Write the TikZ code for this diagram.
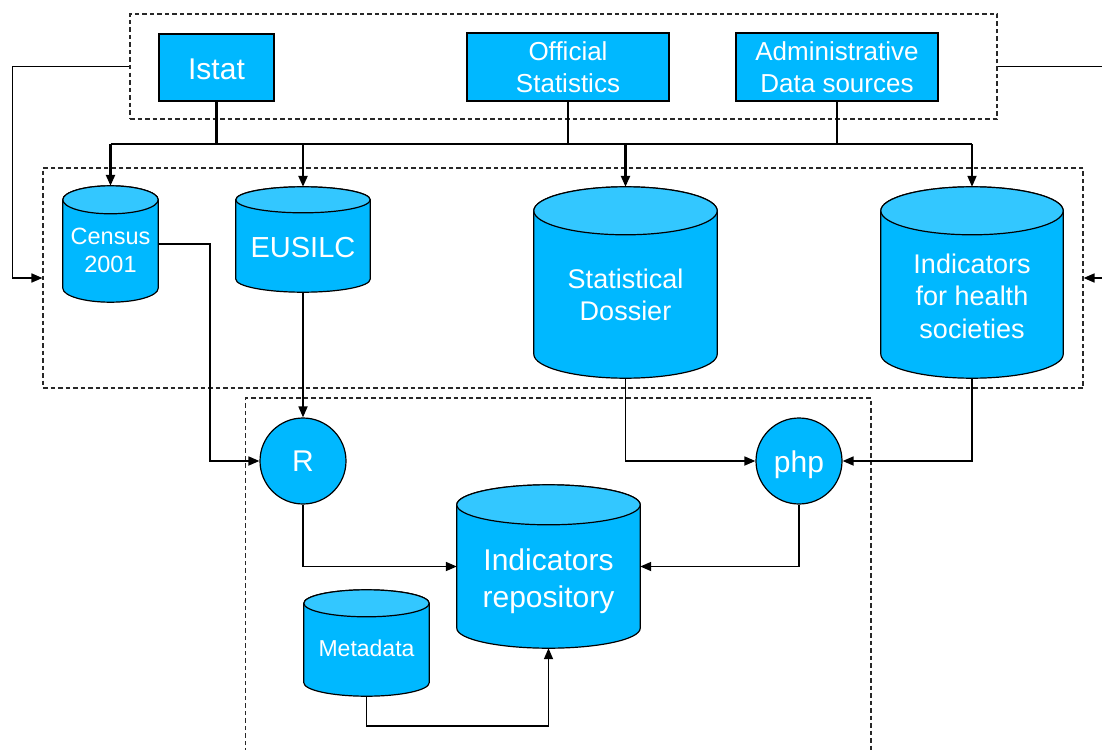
\documentclass[tikz,border=0pt]{standalone}
\usepackage{fontspec}
\setmainfont{Liberation Sans}
\usetikzlibrary{arrows.meta,backgrounds,calc}

\definecolor{dbblue}{RGB}{0,184,255}
\definecolor{dbtop}{RGB}{51,199,255}
\definecolor{dashgray}{RGB}{40,40,40}

\newcommand\fsz[2]{\fontsize{#1}{#2}\selectfont}
% centred multi-line label, moved vertically by #1 inside its node
\newcommand\dbtext[2]{\raisebox{#1}[0pt][0pt]{\begin{tabular}{@{}c@{}}#2\end{tabular}}}
% single label lowered by #1 while keeping its box
\newcommand\lowered[2]{\raisebox{-#1}[\height][\depth]{#2}}

\tikzset{
  drumline/.style={draw=black, line width=1.2pt},
  dbnode/.style={inner sep=0pt, text=white},
  srcbox/.style={draw=black, line width=1.2pt, fill=dbblue, text=white, inner sep=0pt, align=center},
  procnode/.style={circle, draw=black, line width=1.2pt, fill=dbblue, text=white, minimum size=86pt, inner sep=0pt},
  dashedline/.style={draw=dashgray, line width=1.1pt, dash pattern=on 4.5pt off 3pt},
  conn/.style={draw=black, line width=1.7pt},
  busline/.style={draw=black, line width=2.3pt},
  arr/.style={-{Triangle[length=11pt,width=9pt]}},
}

% database drum drawn behind a named node: node name, cap radius (pt)
\newcommand\drum[2]{%
  \begin{scope}[on background layer]
    \path let \p1=(#1.south west), \p2=(#1.north east),
              \n1={0.5*(\x2-\x1)}, \n2={#2*1pt} in
      [drumline, fill=dbblue]
        (\x1,\y2-\n2) -- (\x1,\y1+\n2)
        arc[start angle=180, end angle=360, x radius=\n1, y radius=\n2]
        -- (\x2,\y2-\n2)
        arc[start angle=0, end angle=180, x radius=\n1, y radius=\n2] -- cycle;
    \path let \p1=(#1.south west), \p2=(#1.north east),
              \n1={0.5*(\x2-\x1)}, \n2={#2*1pt} in
      [drumline, fill=dbtop]
        (\x1+\n1,\y2-\n2) ellipse[x radius=\n1, y radius=\n2];
  \end{scope}}

\begin{document}
\begin{tikzpicture}[x=1pt, y=1pt]
\useasboundingbox (0,0) rectangle (1102,-749);

% grouping frames
\node[dashedline, minimum width=867pt, minimum height=105pt, inner sep=0pt] (srcgroup) at (563.5,-66.5) {};
\node[dashedline, minimum width=1040pt, minimum height=220pt, inner sep=0pt] (dbgroup) at (563,-278) {};
\draw[dashedline] (245.5,-760) |- (871,-398) -- (871,-760);

% data sources
\node[srcbox, minimum width=115pt, minimum height=67pt, font=\fsz{30}{36}] (istat) at (216.5,-67.5) {\lowered{2pt}{Istat}};
\node[srcbox, minimum width=202pt, minimum height=68pt, font=\fsz{26}{32}] (official) at (568,-67) {Official\\Statistics};
\node[srcbox, minimum width=202pt, minimum height=68pt, font=\fsz{26}{32}] (admin) at (837,-67) {Administrative\\Data sources};

% databases
\node[dbnode, minimum width=95pt, minimum height=116pt, font=\fsz{23.5}{28}] (census) at (110.5,-244) {\dbtext{-15.5pt}{Census\\2001}};
\node[dbnode, minimum width=134pt, minimum height=105pt, font=\fsz{29}{35}] (eusilc) at (303,-239.5) {\dbtext{-17.3pt}{EUSILC}};
\node[dbnode, minimum width=183pt, minimum height=191pt, font=\fsz{27}{32}] (dossier) at (625.5,-282.5) {\dbtext{-21.7pt}{Statistical\\Dossier}};
\node[dbnode, minimum width=182pt, minimum height=191pt, font=\fsz{27}{32.5}] (health) at (972,-282.5) {\dbtext{-23pt}{Indicators\\for health\\societies}};
\node[dbnode, minimum width=183pt, minimum height=163pt, font=\fsz{30}{37}] (repo) at (548.5,-566.5) {\dbtext{-21.5pt}{Indicators\\repository}};
\node[dbnode, minimum width=125pt, minimum height=106pt, font=\fsz{23}{28}] (meta) at (366.5,-643) {\dbtext{-14.5pt}{Metadata}};

\drum{census}{14}
\drum{eusilc}{13}
\drum{dossier}{24}
\drum{health}{24}
\drum{repo}{20}
\drum{meta}{13.5}

% processing steps
\node[procnode, font=\fsz{30}{36}] (R) at (303,-461) {R};
\node[procnode, font=\fsz{30}{36}] (php) at (799,-461) {\lowered{4pt}{php}};

% distribution bus from the sources
\coordinate (busL) at (110.5,-144);
\coordinate (busR) at (972,-144);
\draw[busline] (busL) -- (busR);
\draw[busline] (istat.south) -- (istat.south |- busL);
\draw[conn] (official.south) -- (official.south |- busL);
\draw[conn] (admin.south) -- (admin.south |- busL);
\draw[busline, arr] (census.north |- busL) -- (census.north);
\draw[busline, arr] (eusilc.north |- busL) -- (eusilc.north);
\draw[busline, arr] (dossier.north |- busL) -- (dossier.north);
\draw[conn, arr] (health.north |- busL) -- (health.north);

% feedback links around the database group
\draw[conn, arr] (srcgroup.west) -- ++(-117,0) |- (dbgroup.west);
\coordinate (outR) at (1102,-66.5);
\coordinate (inR) at (1102,-278);
\draw[conn] (srcgroup.east) -- (outR);
\draw[conn, arr] (inR) -- (dbgroup.east);

% processing flows
\draw[conn, arr] (census.east) -- ([xshift=52pt]census.east) |- (R.west);
\draw[conn, arr] (eusilc.south) -- (R.north);
\draw[conn, arr] (dossier.south) |- (php.west);
\draw[conn, arr] (health.south) |- (php.east);
\draw[conn, arr] (R.south) |- (repo.west);
\draw[conn, arr] (php.south) |- (repo.east);
\draw[conn, arr] (meta.south) -- ++(0,-30) -| (repo.south);
\end{tikzpicture}
\end{document}
